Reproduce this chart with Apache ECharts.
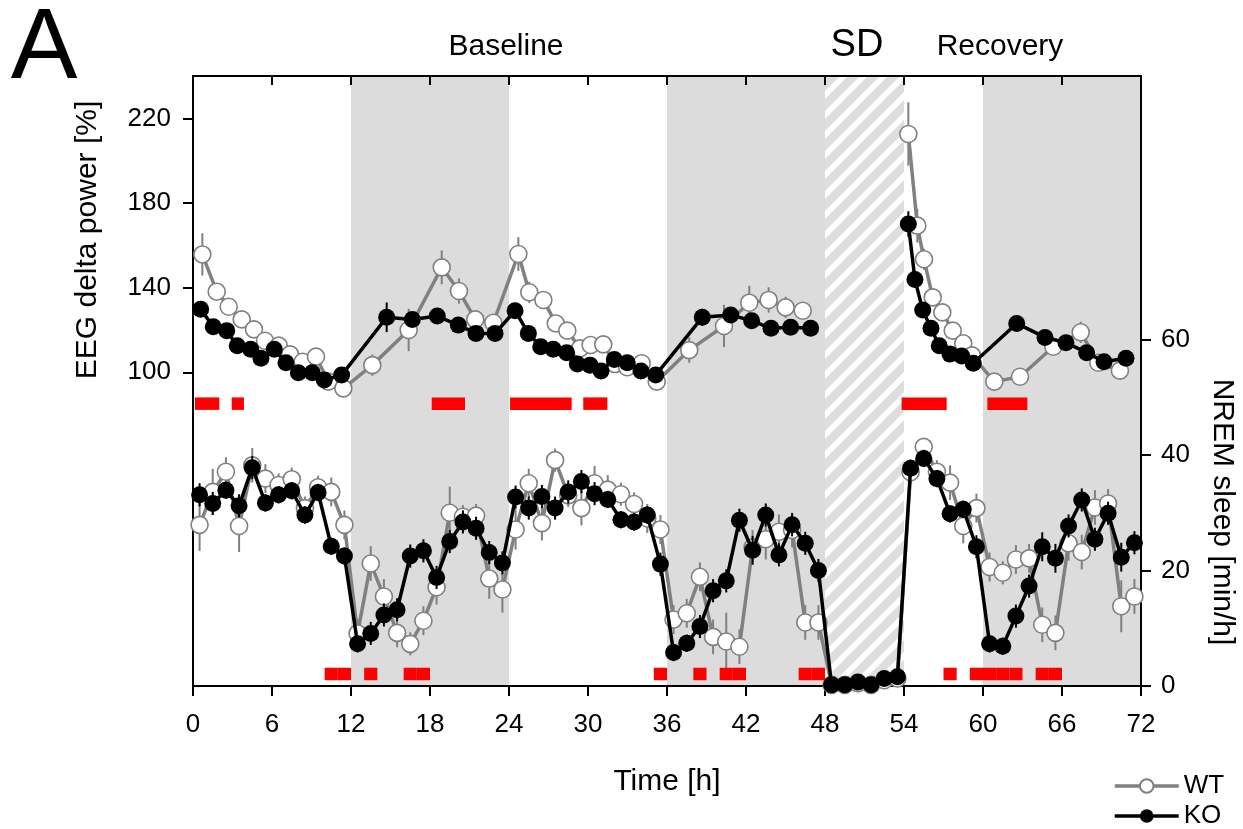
<!DOCTYPE html>
<html><head><meta charset="utf-8">
<script src="https://cdn.jsdelivr.net/npm/echarts@6/dist/echarts.min.js"></script>
<style>html,body{margin:0;padding:0;background:#fff}#c{width:1243px;height:829px}</style>
</head><body><div id="c"></div><script>
// ---------------- DATA ----------------
const xTicks = [0, 6, 12, 18, 24, 30, 36, 42, 48, 54, 60, 66, 72];
const deltaTicks = [100, 140, 180, 220];
const nremTicks = [0, 20, 40, 60];
const darkPeriods = [[12, 24], [36, 48], [60, 72]];
const sdPeriod = [48, 54];
const periodLabels = ['Baseline', 'SD', 'Recovery'];

// EEG delta power (% of reference) - WT
const deltaWtHours = [0.71,1.80,2.71,3.70,4.63,5.47,6.51,7.37,8.33,9.34,10.28,11.42,
  13.62,16.38,18.89,20.20,21.44,22.81,
  24.71,25.54,26.61,27.55,28.43,29.39,30.20,31.16,32.05,32.98,34.08,35.22,
  37.69,40.33,42.25,43.72,45.01,46.31,
  54.33,55.01,55.52,56.18,56.91,57.70,58.50,59.16,
  60.86,62.81,65.34,67.42,68.76,70.40];
const deltaWt = [155.7,138.1,131.0,125.0,120.3,114.9,112.6,108.5,105.0,107.4,95.6,92.4,
  103.4,120.0,149.6,138.4,125.0,123.4,
  155.9,137.8,134.2,123.1,119.7,111.3,112.9,113.2,103.9,102.4,104.3,95.6,
  110.5,121.9,132.9,134.2,130.7,129.1,
  212.6,169.3,153.4,135.4,128.3,119.7,113.7,108.0,
  95.6,97.9,112.1,118.9,104.5,100.8];
const deltaWtSem = [10,4,3,3,3,3,3,3,3,3,2,2,
  5,10,8,6,4,4,
  8,5,4,3,3,3,3,3,3,3,3,2,
  6,10,8,6,5,4,
  15,8,5,4,3,3,3,3,
  3,3,4,5,3,3];

// EEG delta power - KO
const deltaKoHours = [0.58,1.54,2.56,3.36,4.38,5.16,6.17,7.06,8.00,9.06,9.97,11.29,
  14.71,16.66,18.55,20.15,21.49,22.94,
  24.46,25.47,26.41,27.36,28.38,29.19,30.15,30.99,32.00,32.98,34.02,35.14,
  38.68,40.84,42.43,43.90,45.39,46.91,
  54.33,54.83,55.42,56.05,56.68,57.49,58.38,59.26,
  62.56,64.71,66.30,67.87,69.19,70.86];
const deltaKo = [129.8,121.5,119.7,112.6,110.9,106.6,110.9,104.5,99.8,99.8,96.4,98.7,
  126.0,125.0,126.6,122.3,118.4,118.4,
  129.1,118.4,112.1,110.9,109.3,103.9,103.4,100.6,106.1,104.5,100.6,98.7,
  126.0,127.1,124.4,120.8,121.3,120.8,
  170.1,143.9,129.4,120.8,112.6,108.6,107.7,104.3,
  123.1,116.5,114.0,109.3,105.0,106.6];
const deltaKoSem = [3,3,3,2,2,2,2,2,2,2,2,2,
  7,3,3,3,2,2,
  3,2,2,2,2,2,2,2,2,2,2,2,
  4,3,3,2,2,2,
  6,4,3,2,2,2,2,2,
  4,2,2,2,2,2];

// NREM sleep (min/h), hours 0..71
const nremWt = [27.9,33.6,37.1,27.7,38.2,35.9,34.8,35.8,30.8,34.4,33.6,27.9,
  9.1,21.2,15.5,9.2,7.3,11.3,17.1,30.0,29.3,29.5,18.6,16.7,
  27.1,35.1,28.2,39.1,33.0,30.8,35.1,34.0,33.2,31.5,29.0,27.1,
  11.5,12.6,18.9,8.5,7.7,6.8,24.0,25.4,26.7,27.0,11.0,11.0,
  0.2,0.2,0.5,0.2,1.0,1.3,
  37.0,41.4,37.1,35.2,27.7,30.8,20.6,19.6,21.9,22.1,10.6,9.2,
  24.7,23.2,30.9,31.6,13.8,15.5];
const nremWtSem = [4.5,4,2.5,4.5,3,2.5,2,2,2,2,2.5,2.5,
  2.5,3,3,2.5,2,2.5,3,4.5,2,2,3.5,4,
  3.5,2.5,3,2,2,3,3,2.5,2,2,2.5,2.5,
  2.5,2.5,2.5,3,5,3,3,3.5,3,3,3,3,
  0.3,0.3,0.3,0.3,0.3,0.3,
  2,1.5,2,3,3,2.5,2.5,2,2.5,2.5,3,3,
  3,3,3,2.5,4.5,3];
const nremKo = [33.1,31.6,33.9,31.2,37.8,31.7,33.1,33.8,29.6,33.5,24.2,22.5,
  7.3,9.1,12.3,13.2,22.5,23.4,18.8,25.0,28.4,27.3,23.1,21.3,
  32.7,30.8,32.8,30.8,33.6,35.4,33.3,32.3,28.8,28.4,29.6,21.1,
  5.8,7.4,10.3,16.5,18.2,28.7,23.5,29.6,22.7,27.9,24.7,20.0,
  0.2,0.2,0.7,0.2,1.3,1.6,
  37.7,39.4,35.9,29.8,30.6,24.1,7.3,6.9,12.1,17.3,24.1,22.1,
  27.7,32.2,25.4,29.9,22.3,24.8];
const nremKoSem = [2,2,1.5,2,2,1.5,1.5,1.5,1.5,1.5,1.5,1.5,
  1.5,2,2,2,2,2,2,2,2,2,2,2,
  2,2,2,2,2,2,2,1.5,1.5,1.5,1.5,2,
  1.5,1.5,2,2,2,2,2.5,2,2,2,2,2,
  0.3,0.3,0.3,0.3,0.3,0.3,
  1.5,1.5,1.5,1.5,1.5,2,1.5,1.5,2,2,2.5,2.5,
  2,2,2,2,2.5,2];

// significance markers
const deltaSigSpans = [[0.15,2.0],[2.94,3.87],[18.13,20.66],[24.08,28.76],[29.64,31.47],[53.82,57.24],[60.33,63.37]];
const nremSigHours = [10,11,13,16,17,35,38,40,41,46,47,57,59,60,61,62,64,65];

// ---------------- CHART ----------------
const FONT = '"Liberation Sans", Arial, sans-serif';
const chart = echarts.init(document.getElementById('c'));

const pc = document.createElement('canvas'); pc.width = 20; pc.height = 20;
const g = pc.getContext('2d');
g.fillStyle = '#dedede'; g.fillRect(0, 0, 20, 20);
g.strokeStyle = '#ffffff'; g.lineWidth = 5.5; g.lineCap = 'square';
g.beginPath();
g.moveTo(-5, 25); g.lineTo(25, -5);
g.moveTo(-5, 5); g.lineTo(5, -5);
g.moveTo(15, 25); g.lineTo(25, 15);
g.stroke();

function errRender(color, width) {
  return function (params, api) {
    const x = api.value(0), y = api.value(1), e = api.value(2);
    const p1 = api.coord([x, y - e]), p2 = api.coord([x, y + e]);
    return { type: 'line', shape: { x1: p1[0], y1: p1[1], x2: p2[0], y2: p2[1] },
      style: { stroke: color, lineWidth: width } };
  };
}
function sigRender(level, h) {
  return function (params, api) {
    const a = api.coord([api.value(0), level]), b = api.coord([api.value(1), level]);
    return { type: 'rect', shape: { x: a[0], y: a[1] - h / 2, width: b[0] - a[0], height: h },
      style: { fill: '#ff0000' } };
  };
}

const wtDeltaData = deltaWtHours.map((h, i) => [h, deltaWt[i]]);
const koDeltaData = deltaKoHours.map((h, i) => [h, deltaKo[i]]);
// break lines across sleep deprivation
function breakAt(arr, x) { const i = arr.findIndex(p => p[0] > x); arr.splice(i, 0, [x, '-']); return arr; }
breakAt(wtDeltaData, 51); breakAt(koDeltaData, 51);

const nremWtData = nremWt.map((v, i) => [i + 0.5, v]);
const nremKoData = nremKo.map((v, i) => [i + 0.5, v]);

const WT_COLOR = '#808080';
const symW = { color: '#ffffff', borderColor: WT_COLOR, borderWidth: 1.6 };
const legendBase = { orient: 'horizontal', left: 1108, itemWidth: 64, itemHeight: 17, itemGap: 4,
  lineStyle: { width: 3.5 },
  textStyle: { fontSize: 26, color: '#000', fontFamily: FONT } };

const option = {
  animation: false,
  backgroundColor: '#ffffff',
  textStyle: { fontFamily: FONT },
  grid: { left: 193, right: 102, top: 76, bottom: 143, containLabel: false },
  legend: [
    Object.assign({ data: ['WT'], top: 768 }, legendBase),
    Object.assign({ data: ['KO'], top: 798 }, legendBase)
  ],
  xAxis: [
    { type: 'value', min: 0, max: 72, interval: 6, position: 'bottom',
      axisLine: { show: true, onZero: false, lineStyle: { color: '#000', width: 2 } },
      axisTick: { show: true, length: 10, lineStyle: { color: '#000', width: 2 } },
      axisLabel: { fontSize: 26, color: '#000', margin: 26, fontFamily: FONT },
      splitLine: { show: false } },
    { type: 'value', min: 0, max: 72, interval: 6, position: 'top',
      axisLine: { show: true, onZero: false, lineStyle: { color: '#000', width: 2 } },
      axisTick: { show: true, inside: true, length: 9, lineStyle: { color: '#000', width: 2 } },
      axisLabel: { show: false }, splitLine: { show: false } }
  ],
  yAxis: [
    { type: 'value', min: -48.2, max: 240, position: 'left',
      axisLine: { show: true, onZero: false, lineStyle: { color: '#000', width: 2 } },
      axisTick: { show: true, length: 10, customValues: deltaTicks, lineStyle: { color: '#000', width: 2 } },
      axisLabel: { customValues: deltaTicks, fontSize: 26, color: '#000', margin: 22, fontFamily: FONT },
      splitLine: { show: false } },
    { type: 'value', min: 0, max: 105.6, position: 'right',
      axisLine: { show: true, onZero: false, lineStyle: { color: '#000', width: 2 } },
      axisTick: { show: true, length: 10, customValues: nremTicks, lineStyle: { color: '#000', width: 2 } },
      axisLabel: { customValues: nremTicks, fontSize: 26, color: '#000', margin: 20, fontFamily: FONT },
      splitLine: { show: false } }
  ],
  graphic: [
    { type: 'text', x: 44, y: 50, style: { text: 'A', font: '100px ' + FONT, fill: '#000', textAlign: 'center', textVerticalAlign: 'middle' } },
    { type: 'text', x: 506, y: 47, style: { text: periodLabels[0], font: '30px ' + FONT, fill: '#000', textAlign: 'center', textVerticalAlign: 'middle' } },
    { type: 'text', x: 857, y: 46, style: { text: periodLabels[1], font: '38px ' + FONT, fill: '#000', textAlign: 'center', textVerticalAlign: 'middle' } },
    { type: 'text', x: 1000, y: 47, style: { text: periodLabels[2], font: '30px ' + FONT, fill: '#000', textAlign: 'center', textVerticalAlign: 'middle' } },
    { type: 'text', x: 88, y: 240, rotation: Math.PI / 2, style: { text: 'EEG delta power [%]', font: '30px ' + FONT, fill: '#000', textAlign: 'center', textVerticalAlign: 'middle' } },
    { type: 'text', x: 1222, y: 512, rotation: -Math.PI / 2, style: { text: 'NREM sleep [min/h]', font: '30px ' + FONT, fill: '#000', textAlign: 'center', textVerticalAlign: 'middle' } },
    { type: 'text', x: 667, y: 782, style: { text: 'Time [h]', font: '30px ' + FONT, fill: '#000', textAlign: 'center', textVerticalAlign: 'middle' } }
  ],
  series: [
    { type: 'line', data: [], xAxisIndex: 0, yAxisIndex: 0, silent: true, z: 0,
      markArea: { silent: true, z: 0,
        data: darkPeriods.map(p => [{ xAxis: p[0], itemStyle: { color: '#dcdcdc' } }, { xAxis: p[1] }])
          .concat([[{ xAxis: sdPeriod[0], itemStyle: { color: { image: pc, repeat: 'repeat' } } }, { xAxis: sdPeriod[1] }]]) } },
    // WT
    { type: 'custom', xAxisIndex: 0, yAxisIndex: 0, z: 2, renderItem: errRender(WT_COLOR, 2),
      data: deltaWtHours.map((h, i) => [h, deltaWt[i], deltaWtSem[i]]), encode: { x: 0, y: 1 } },
    { type: 'custom', xAxisIndex: 0, yAxisIndex: 1, z: 2, renderItem: errRender(WT_COLOR, 2),
      data: nremWt.map((v, i) => [i + 0.5, v, nremWtSem[i]]), encode: { x: 0, y: 1 } },
    { name: 'WT', type: 'line', xAxisIndex: 0, yAxisIndex: 0, z: 3, data: wtDeltaData,
      symbol: 'circle', symbolSize: 17, showAllSymbol: true,
      lineStyle: { color: WT_COLOR, width: 3.5 }, itemStyle: symW },
    { name: 'WT', type: 'line', xAxisIndex: 0, yAxisIndex: 1, z: 3, data: nremWtData,
      symbol: 'circle', symbolSize: 17, showAllSymbol: true,
      lineStyle: { color: WT_COLOR, width: 3.5 }, itemStyle: symW },
    // KO
    { type: 'custom', xAxisIndex: 0, yAxisIndex: 0, z: 4, renderItem: errRender('#000', 2),
      data: deltaKoHours.map((h, i) => [h, deltaKo[i], deltaKoSem[i]]), encode: { x: 0, y: 1 } },
    { type: 'custom', xAxisIndex: 0, yAxisIndex: 1, z: 4, renderItem: errRender('#000', 2),
      data: nremKo.map((v, i) => [i + 0.5, v, nremKoSem[i]]), encode: { x: 0, y: 1 } },
    { name: 'KO', type: 'line', xAxisIndex: 0, yAxisIndex: 0, z: 5, data: koDeltaData,
      symbol: 'circle', symbolSize: 17, showAllSymbol: true,
      lineStyle: { color: '#000', width: 3.5 }, itemStyle: { color: '#000' } },
    { name: 'KO', type: 'line', xAxisIndex: 0, yAxisIndex: 1, z: 5, data: nremKoData,
      symbol: 'circle', symbolSize: 17, showAllSymbol: true,
      lineStyle: { color: '#000', width: 3.5 }, itemStyle: { color: '#000' } },
    // significance
    { type: 'custom', xAxisIndex: 0, yAxisIndex: 0, z: 6, renderItem: sigRender(85.2, 12.5),
      data: deltaSigSpans, encode: { x: [0, 1] } },
    { type: 'custom', xAxisIndex: 0, yAxisIndex: 1, z: 6, renderItem: sigRender(2.08, 12.5),
      data: nremSigHours.map(h => [h, h + 1]), encode: { x: [0, 1] } }
  ]
};
chart.setOption(option);
</script></body></html>
